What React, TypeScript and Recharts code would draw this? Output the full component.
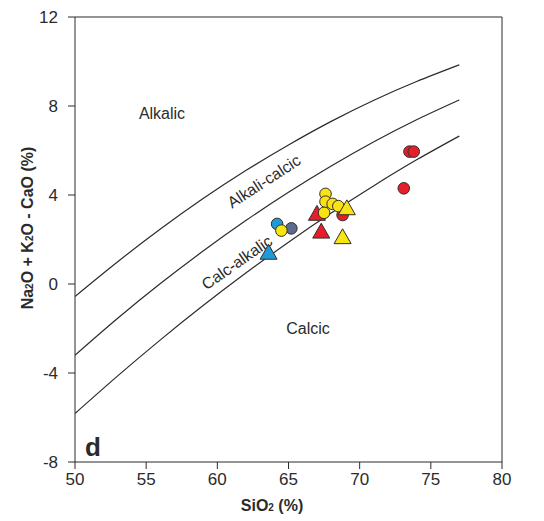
import React from "react";
import {
  ComposedChart,
  Line,
  Scatter,
  XAxis,
  YAxis,
  ReferenceLine,
  Label,
} from "recharts";

// Boundary curves (SiO2 vs MALI)
const siO2Grid = [50, 53, 56, 59, 62, 65, 68, 71, 74, 77];
const alkalicBoundary = [-0.56, 1.0, 2.47, 3.84, 5.1, 6.25, 7.31, 8.26, 9.1, 9.85];
const alkaliCalcicBoundary = [-3.2, -1.54, 0.02, 1.48, 2.85, 4.12, 5.3, 6.39, 7.38, 8.27];
const calcAlkalicBoundary = [-5.82, -4.13, -2.51, -0.97, 0.49, 1.88, 3.19, 4.42, 5.58, 6.65];

// Samples
const redCircleX = [73.5, 73.8, 73.1, 68.8];
const redCircleY = [5.95, 5.95, 4.3, 3.1];
const yellowCircleX = [67.6, 67.6, 68.1, 68.5, 67.5, 64.5];
const yellowCircleY = [4.05, 3.7, 3.6, 3.5, 3.2, 2.4];
const blueCircleX = [64.2];
const blueCircleY = [2.7];
const slateCircleX = [65.2];
const slateCircleY = [2.5];
const redTriangleX = [67.0, 67.3];
const redTriangleY = [3.15, 2.35];
const yellowTriangleX = [69.1, 68.8];
const yellowTriangleY = [3.4, 2.1];
const blueTriangleX = [63.6];
const blueTriangleY = [1.4];

const xTicks = [50, 55, 60, 65, 70, 75, 80];
const yTicks = [-8, -4, 0, 4, 8, 12];

const toRows = (xs: number[], ys: number[]) =>
  xs.map((x, i) => ({ x, y: ys[i] }));

const FONT = '"Liberation Sans", Arial, sans-serif';
const INK = "#2b2b2b";

const circleShape = (fill: string) => (props: any) => {
  const { cx, cy } = props;
  return <circle cx={cx} cy={cy} r={5.8} fill={fill} stroke="#3a2a2a" strokeWidth={1} />;
};

const triangleShape = (fill: string) => (props: any) => {
  const { cx, cy } = props;
  const s = 8.5;
  const pts = `${cx},${cy - s} ${cx + s},${cy + s * 0.75} ${cx - s},${cy + s * 0.75}`;
  return <polygon points={pts} fill={fill} stroke="#3a2a2a" strokeWidth={1} />;
};

const XTick = (props: any) => {
  const { x, y, payload } = props;
  return (
    <text x={x} y={y + 14} textAnchor="middle" fontFamily={FONT} fontSize={17} fill={INK}>
      {payload.value}
    </text>
  );
};

const YTick = (props: any) => {
  const { x, y, payload } = props;
  return (
    <text x={x - 8} y={y + 6} textAnchor="end" fontFamily={FONT} fontSize={17} fill={INK}>
      {payload.value}
    </text>
  );
};

export default function App() {
  return (
    <div style={{ position: "absolute", left: 0, top: 0, background: "#fff" }}>
      <ComposedChart
        width={544}
        height={521}
        margin={{ top: 17, right: 42, bottom: 29, left: 0 }}
      >
        <XAxis
          type="number"
          dataKey="x"
          domain={[50, 80]}
          ticks={xTicks}
          allowDataOverflow
          stroke={INK}
          tickSize={7}
          tick={<XTick />}
          height={30}
        >
          <Label
            content={() => (
              <text x={272} y={511} textAnchor="middle" fontFamily={FONT} fontWeight="bold" fontSize={16} fill={INK}>
                SiO<tspan fontSize={10}>2</tspan> (%)
              </text>
            )}
          />
        </XAxis>
        <YAxis
          type="number"
          dataKey="y"
          domain={[-8, 12]}
          ticks={yTicks}
          allowDataOverflow
          stroke={INK}
          tickSize={7}
          tick={<YTick />}
          width={75}
        >
          <Label
            content={() => (
              <text
                x={33}
                y={228}
                transform="rotate(-90 33 228)"
                textAnchor="middle"
                fontFamily={FONT}
                fontWeight="bold"
                fontSize={16}
                fill={INK}
              >
                Na<tspan fontSize={10}>2</tspan>O + K<tspan fontSize={10}>2</tspan>O - CaO (%)
              </text>
            )}
          />
        </YAxis>
        <ReferenceLine y={12} stroke={INK} strokeWidth={1} />
        <ReferenceLine x={80} stroke={INK} strokeWidth={1} />

        <Line data={toRows(siO2Grid, alkalicBoundary)} dataKey="y" type="natural" stroke={INK} strokeWidth={1.2} dot={false} isAnimationActive={false} />
        <Line data={toRows(siO2Grid, alkaliCalcicBoundary)} dataKey="y" type="natural" stroke={INK} strokeWidth={1.2} dot={false} isAnimationActive={false} />
        <Line data={toRows(siO2Grid, calcAlkalicBoundary)} dataKey="y" type="natural" stroke={INK} strokeWidth={1.2} dot={false} isAnimationActive={false} />

        <Scatter data={toRows(blueTriangleX, blueTriangleY)} shape={triangleShape("#1f9ad8")} isAnimationActive={false} />
        <Scatter data={toRows(blueCircleX, blueCircleY)} shape={circleShape("#1f9ad8")} isAnimationActive={false} />
        <Scatter data={toRows(slateCircleX, slateCircleY)} shape={circleShape("#5b6b8c")} isAnimationActive={false} />
        <Scatter data={toRows(redTriangleX, redTriangleY)} shape={triangleShape("#e3202a")} isAnimationActive={false} />
        <Scatter data={toRows(redCircleX, redCircleY)} shape={circleShape("#e3202a")} isAnimationActive={false} />
        <Scatter data={toRows(yellowCircleX, yellowCircleY)} shape={circleShape("#f7e414")} isAnimationActive={false} />
        <Scatter data={toRows(yellowTriangleX, yellowTriangleY)} shape={triangleShape("#f7e414")} isAnimationActive={false} />

        <g fontFamily={FONT} fill={INK}>
          <text x={162} y={119} fontSize={16} textAnchor="middle">Alkalic</text>
          <text x={267} y={186} fontSize={16} textAnchor="middle" transform="rotate(-33 267 186)">Alkali-calcic</text>
          <text x={240} y={267} fontSize={16} textAnchor="middle" transform="rotate(-35 240 267)">Calc-alkalic</text>
          <text x={308} y={334} fontSize={16} textAnchor="middle">Calcic</text>
          <text x={85} y={456} fontSize={26} fontWeight="bold">d</text>
        </g>
      </ComposedChart>
    </div>
  );
}
